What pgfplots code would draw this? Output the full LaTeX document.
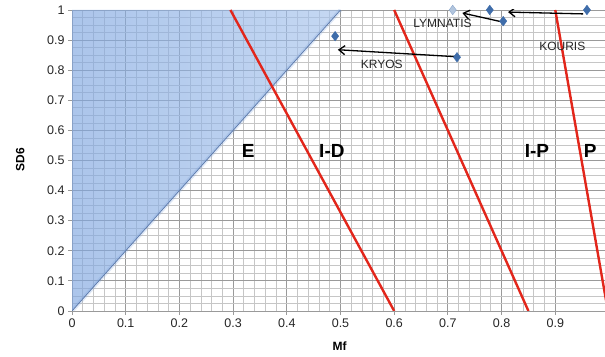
\documentclass[border=0pt]{standalone}
\usepackage{fontspec}
\setmainfont{Liberation Sans}
\usepackage{pgfplots}
\pgfplotsset{compat=1.18}
\usetikzlibrary{arrows.meta}
\definecolor{tri}{HTML}{7FA4DA}
\definecolor{trid}{HTML}{7FA6E0}
\definecolor{tril}{HTML}{A6C3EC}
\definecolor{diag}{HTML}{5A78AA}
\definecolor{redl}{HTML}{E2261B}
\definecolor{dia}{HTML}{3F6DAA}
\definecolor{majg}{HTML}{9A9A9A}
\definecolor{ming}{HTML}{C6C6C6}
\begin{document}
\begin{tikzpicture}
\begin{axis}[
  scale only axis, width=533pt, height=301pt,
  xmin=0, xmax=0.9926, ymin=0, ymax=1,
  xtick={0,0.1,...,0.91}, ytick={0,0.1,...,1.01},
  minor x tick num=4, minor y tick num=3,
  grid=both,
  major grid style={majg, line width=0.9pt},
  minor grid style={ming, line width=0.7pt},
  axis x line*=bottom, axis y line*=left,
  axis line style={majg, line width=0.9pt},
  tick align=outside, major tick length=4pt, minor tick length=0pt,
  tick style={majg, line width=0.8pt},
  /pgf/number format/assume math mode=true,
  xticklabel style={font=\fontsize{12.5}{14}\selectfont, color=black!85},
  yticklabel style={font=\fontsize{12.5}{14}\selectfont, color=black!85},
  xticklabel={\pgfmathprintnumber[fixed, precision=1]{\tick}},
  yticklabel={\pgfmathprintnumber[fixed, precision=1]{\tick}},
  xlabel={\textbf{Mf}}, ylabel={\textbf{SD6}},
  xlabel style={font=\fontsize{12}{14}\selectfont, at={(axis description cs:0.502,-0.118)}, anchor=center},
  ylabel style={font=\fontsize{12}{14}\selectfont, at={(axis description cs:-0.097,0.503)}, anchor=center},
  clip=true,
]
% blue region
\addplot[draw=none, left color=trid, right color=tril, fill opacity=0.65] coordinates {(0,0) (0.5,1) (0,1)} -- cycle;
\addplot[draw=tri, line width=4pt, opacity=0.25] coordinates {(0,0) (0.5,1)};
\addplot[diag, line width=0.7pt] coordinates {(0,0) (0.5,1)};
% red boundary lines
\addplot[redl, line width=2.4pt] coordinates {(0.295,1) (0.6,0)};
\addplot[redl, line width=2.4pt] coordinates {(0.6,1) (0.85,0)};
\addplot[redl, line width=2.4pt] coordinates {(0.9,1) (0.998,0)};
% arrows
\addplot[black, line width=1.3pt, -{Straight Barb[length=6pt, width=9pt]}] coordinates {(0.713,0.845) (0.495,0.868)};
\addplot[black, line width=1.3pt, -{Straight Barb[length=6pt, width=9pt]}] coordinates {(0.797,0.962) (0.727,0.99)};
\addplot[black, line width=1.3pt, -{Straight Barb[length=6pt, width=9pt]}] coordinates {(0.952,0.987) (0.812,0.993)};
% points
\addplot[only marks, mark=diamond*, mark size=4.8pt, color=dia, clip=false] coordinates {(0.49,0.913) (0.717,0.843) (0.778,1.0) (0.803,0.963) (0.959,1.0)};
\addplot[only marks, mark=diamond*, mark size=4.8pt, draw=dia!60, fill=dia!40, clip=false] coordinates {(0.709,1.0)};
% labels
\node[font=\fontsize{12}{14}\selectfont, text=black!85] at (axis cs:0.577,0.82) {KRYOS};
\node[font=\fontsize{12}{14}\selectfont, text=black!85] at (axis cs:0.69,0.957) {LYMNATIS};
\node[font=\fontsize{12}{14}\selectfont, text=black!85] at (axis cs:0.913,0.88) {KOURIS};
\node[font=\bfseries\fontsize{19}{21}\selectfont] at (axis cs:0.328,0.53) {E};
\node[font=\bfseries\fontsize{19}{21}\selectfont] at (axis cs:0.484,0.53) {I-D};
\node[font=\bfseries\fontsize{19}{21}\selectfont] at (axis cs:0.866,0.53) {I-P};
\node[font=\bfseries\fontsize{19}{21}\selectfont] at (axis cs:0.965,0.53) {P};
\coordinate (bl) at (axis description cs:-0.1351,-0.1528);
\coordinate (tr) at (axis description cs:1,1.0332);
\end{axis}
\pgfresetboundingbox
\path[use as bounding box] (bl) rectangle (tr);
\end{tikzpicture}
\end{document}
